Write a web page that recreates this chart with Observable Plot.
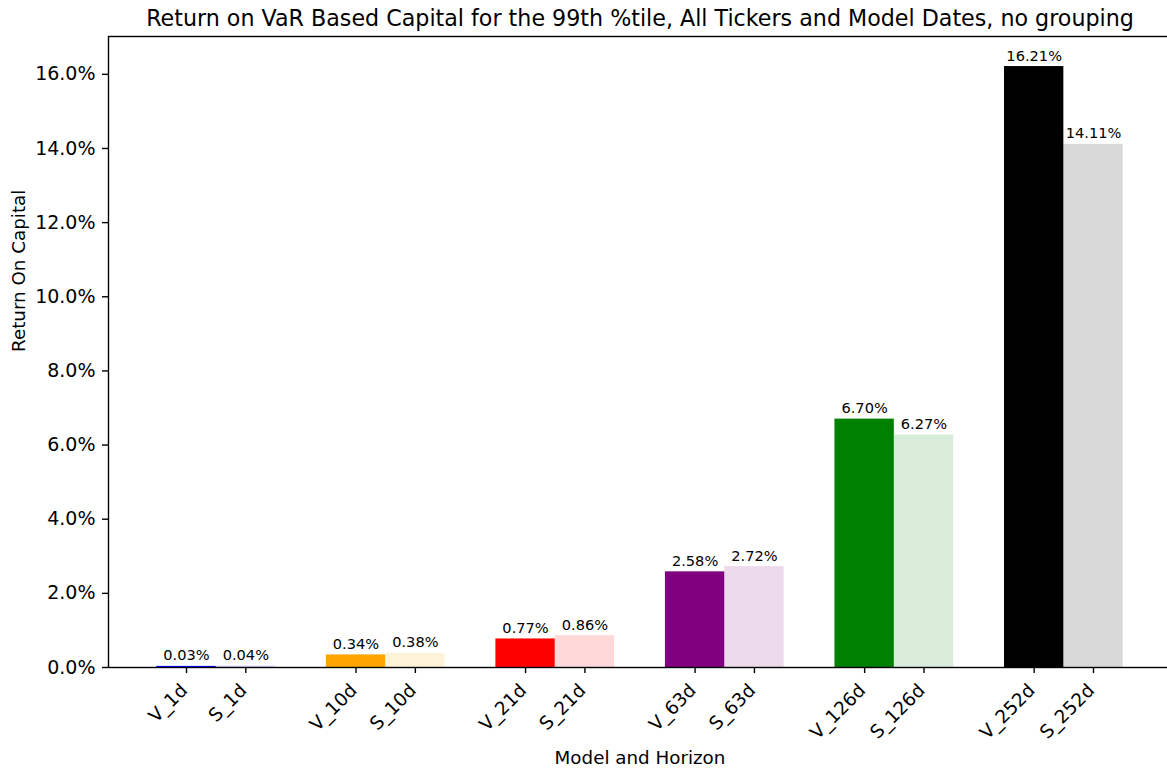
<!DOCTYPE html>
<html>
<head>
<meta charset="utf-8">
<script src="https://cdn.jsdelivr.net/npm/d3@7"></script>
<script src="https://cdn.jsdelivr.net/npm/@observablehq/plot@0.6"></script>
<style>
  html, body { margin: 0; padding: 0; background: white; overflow: hidden; }
  #chart svg { display: block; }
</style>
</head>
<body>
<div id="chart"></div>
<script>
const horizons = ["1d", "10d", "21d", "63d", "126d", "252d"];
const vValues = [0.03, 0.34, 0.77, 2.58, 6.70, 16.21];
const sValues = [0.04, 0.38, 0.86, 2.72, 6.27, 14.11];
const baseColors = ["blue", "orange", "red", "purple", "green", "black"];
const yTicks = [0, 2, 4, 6, 8, 10, 12, 14, 16];
const titleText = "Return on VaR Based Capital for the 99th %tile, All Tickers and Model Dates, no grouping";
const xLabel = "Model and Horizon";
const yLabel = "Return On Capital";

const barWidth = 0.35;
const bars = [];
horizons.forEach((h, i) => {
  bars.push({label: "V_" + h, xc: i - barWidth / 2, value: vValues[i], color: baseColors[i], alpha: 1});
  bars.push({label: "S_" + h, xc: i + barWidth / 2, value: sValues[i], color: baseColors[i], alpha: 0.15});
});

const xMin = -barWidth, xMax = horizons.length - 1 + barWidth;
const xPad = (xMax - xMin) * 0.05;
const yMax = d3.max(bars, d => d.value) * 1.05;

const chart = Plot.plot({
  width: 1167,
  height: 769,
  marginLeft: 108,
  marginRight: -4,
  marginTop: 36,
  marginBottom: 102,
  style: {fontFamily: "DejaVu Sans", color: "black", background: "white"},
  x: {type: "linear", domain: [xMin - xPad, xMax + xPad], axis: null},
  y: {domain: [0, yMax], axis: null},
  marks: [
    Plot.rect(bars, {x1: d => d.xc - barWidth / 2, x2: d => d.xc + barWidth / 2, y1: 0, y2: "value", fill: "color", fillOpacity: "alpha"}),
    Plot.frame({stroke: "black", strokeWidth: 1.4}),
    Plot.axisY({ticks: yTicks, tickFormat: d => d.toFixed(1) + "%", tickSize: 6, tickPadding: 7, fontSize: 19, label: null, strokeWidth: 1.4}),
    Plot.axisX({ticks: bars.map(d => d.xc), tickFormat: () => "", tickSize: 6, label: null, strokeWidth: 1.4}),
    Plot.text(bars, {x: "xc", frameAnchor: "bottom", text: "label", rotate: -45, textAnchor: "end", lineAnchor: "bottom", dx: 2, dy: 24, fontSize: 18.5}),
    Plot.text(bars, {x: "xc", y: "value", text: d => d.value.toFixed(2) + "%", lineAnchor: "bottom", dy: -6, fontSize: 14.6}),
    Plot.text([titleText], {frameAnchor: "top", text: d => d, lineAnchor: "bottom", dy: -11, fontSize: 22.2}),
    Plot.text([xLabel], {frameAnchor: "bottom", text: d => d, lineAnchor: "bottom", dy: 96, fontSize: 18.3}),
    Plot.text([yLabel], {frameAnchor: "left", text: d => d, rotate: -90, lineAnchor: "top", dx: -97, fontSize: 18.3})
  ]
});
document.getElementById("chart").append(chart);
</script>
</body>
</html>
